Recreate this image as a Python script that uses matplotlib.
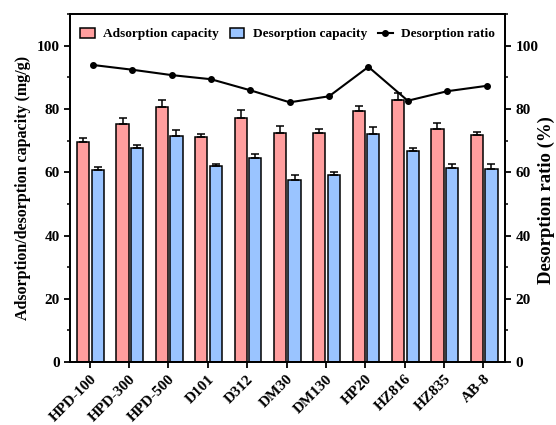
import matplotlib
matplotlib.use("Agg")
import matplotlib.pyplot as plt
import numpy as np
from matplotlib.ticker import MultipleLocator

plt.rcParams['font.family'] = ['Liberation Serif', 'DejaVu Serif']
plt.rcParams['font.weight'] = 'bold'

resins = ["HPD-100", "HPD-300", "HPD-500", "D101", "D312", "DM30",
          "DM130", "HP20", "HZ816", "HZ835", "AB-8"]
adsorption = [69.4, 75.3, 80.7, 71.1, 77.2, 72.4, 72.4, 79.4, 82.9, 73.6, 71.7]
adsorption_err = [1.5, 1.9, 2.1, 1.1, 2.4, 2.3, 1.3, 1.6, 2.0, 2.0, 1.1]
desorption = [60.6, 67.8, 71.3, 62.0, 64.5, 57.7, 59.0, 72.1, 66.6, 61.4, 60.9]
desorption_err = [1.1, 0.9, 2.1, 0.6, 1.2, 1.3, 1.2, 2.1, 1.1, 1.2, 1.7]
ratio = [93.9, 92.4, 90.7, 89.4, 85.9, 82.1, 84.0, 93.3, 82.6, 85.6, 87.3]

fig = plt.figure(figsize=(5.56, 4.25), dpi=100)
ax = fig.add_axes([0.1259, 0.148, 0.7824, 0.819])

x = np.arange(len(resins))
w = 0.31
red = "#FF9E9E"
blue = "#9AC4FF"

b1 = ax.bar(x - w / 2 - 0.01, adsorption, w, color=red, edgecolor="black", linewidth=1.1,
            label="Adsorption capacity", zorder=2)
b2 = ax.bar(x + w / 2 + 0.05, desorption, w, color=blue, edgecolor="black", linewidth=1.1,
            label="Desorption capacity", zorder=2)
ax.errorbar(x - w / 2 - 0.01, adsorption, yerr=[np.zeros(len(x)), adsorption_err],
            fmt="none", ecolor="black", elinewidth=1.1, capsize=3, capthick=1.1, zorder=3)
ax.errorbar(x + w / 2 + 0.05, desorption, yerr=[np.zeros(len(x)), desorption_err],
            fmt="none", ecolor="black", elinewidth=1.1, capsize=3, capthick=1.1, zorder=3)

ax.set_xlim(-0.5, 10.55)
ax.set_ylim(0, 110)
ax.yaxis.set_major_locator(MultipleLocator(20))
ax.yaxis.set_minor_locator(MultipleLocator(10))
ax.set_xticks(x)
ax.set_xticklabels(resins, rotation=45, ha="right", rotation_mode="anchor",
                   fontsize=11, fontweight="bold")
ax.set_ylabel("Adsorption/desorption capacity (mg/g)", fontsize=11.5, fontweight="bold")

ax2 = ax.twinx()
ln, = ax2.plot(x + 0.08, ratio, color="black", marker="o", markersize=4,
               linewidth=1.5, label="Desorption ratio", zorder=4)
ax2.set_ylim(0, 110)
ax2.yaxis.set_major_locator(MultipleLocator(20))
ax2.yaxis.set_minor_locator(MultipleLocator(10))
ax2.set_ylabel("Desorption ratio (%)", fontsize=13.5, fontweight="bold")
ax2.yaxis.set_label_coords(1.074, 0.465)

for a in (ax, ax2):
    for s in a.spines.values():
        s.set_linewidth(1.3)
    a.tick_params(axis="both", which="major", direction="out", length=4, width=1.3,
                  labelsize=11)
    a.tick_params(axis="y", which="minor", direction="out", length=2.5, width=1.1)
    for lab in a.get_yticklabels():
        lab.set_fontweight("bold")

ax.legend(handles=[b1, b2, ln], loc="upper center", ncol=3, frameon=False,
          prop={"weight": "bold", "size": 9.6}, handlelength=1.1, handleheight=0.75,
          columnspacing=0.8, handletextpad=0.65, bbox_to_anchor=(0.5, 0.995))

fig.savefig("out.png", dpi=100)
